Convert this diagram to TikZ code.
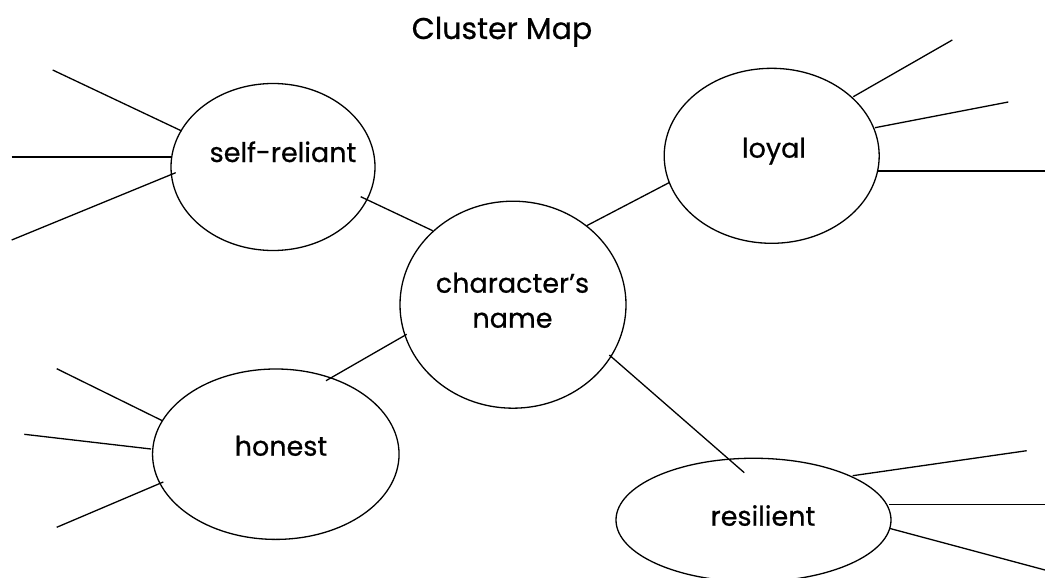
\documentclass[tikz,border=0pt]{standalone}
\usepackage{fontspec}
\setmainfont{Poppins}[FakeBold=0.6,AutoFakeBold=0.6]
\usetikzlibrary{shapes.geometric,calc}
\tikzset{
  oval/.style={ellipse, draw, line width=1.3pt, inner sep=0pt, outer sep=0pt},
  lbl/.style={font=\fontsize{27}{34}\selectfont\bfseries, inner sep=0pt, anchor=base},
  ttl/.style={font=\fontsize{30}{36}\selectfont\bfseries, inner sep=0pt, anchor=base},
  wire/.style={line width=1.3pt}
}
\begin{document}
\begin{tikzpicture}[x=1pt,y=-1pt]
\useasboundingbox (0,0) rectangle (1045,578);
\fill[white] (0,0) rectangle (1045,578);
% title
\node[ttl] (title) at (502,39) {Cluster Map};
% ellipses
\node[oval, minimum width=204pt, minimum height=167pt] (sr) at (273,167) {};
\node[oval, minimum width=215pt, minimum height=175pt] (lo) at (771.7,155.8) {};
\node[oval, minimum width=226pt, minimum height=207pt] (cn) at (513,304.7) {};
\node[oval, minimum width=246.5pt, minimum height=170.4pt] (ho) at (275.8,454.2) {};
\node[oval, minimum width=275pt, minimum height=123.5pt] (re) at (753.5,520) {};
% labels
\node[lbl] (srt) at (283,162) {self-reliant};
\node[lbl] (lot) at (774,157.7) {loyal};
\node[lbl] (cnt1) at (512.5,292.7) {character’s};
\node[lbl] (cnt2) at (512.5,327.7) {name};
\node[lbl] (hot) at (281,455.7) {honest};
\node[lbl] (ret) at (763,525.7) {resilient};
% links
\draw[wire] ($(sr)+(87.7,29.7)$) -- ($(cn)+(-80.3,-74)$);
\draw[wire] ($(cn)+(73.7,-79)$) -- ($(lo)+(-102.7,26.9)$);
\draw[wire] ($(ho)+(50.2,-73.5)$) -- ($(cn)+(-106.3,29.6)$);
\draw[wire] ($(cn)+(96.3,50.3)$) -- ($(re)+(-9.2,-47.3)$);
% free ends
\coordinate (s1) at (52.7,70);
\coordinate (s2) at (11.7,157);
\coordinate (s3) at (11.7,240);
\coordinate (l1) at (952.3,40);
\coordinate (l2) at (1008.3,102);
\coordinate (l3) at (1045,171);
\coordinate (h1) at (56.7,368.7);
\coordinate (h2) at (24.3,434.3);
\coordinate (h3) at (56.7,527.3);
\coordinate (r1) at (1026.7,450.7);
\coordinate (r2) at (1045,504.3);
\coordinate (r3) at (1045,570);
% spokes
\draw[wire] (s1) -- ($(sr)+(-91.3,-36)$);
\draw[wire] (s2) -- ($(sr)+(-101,-10)$);
\draw[wire] (s3) -- ($(sr)+(-97.3,5.7)$);
\draw[wire] ($(lo)+(81.6,-59.1)$) -- (l1);
\draw[wire] ($(lo)+(103.3,-28.1)$) -- (l2);
\draw[wire] ($(lo)+(106,15.2)$) -- (l3);
\draw[wire] (h1) -- ($(ho)+(-113.5,-33.5)$);
\draw[wire] (h2) -- ($(ho)+(-124.8,-5.2)$);
\draw[wire] (h3) -- ($(ho)+(-112.5,27.8)$);
\draw[wire] ($(re)+(99.2,-44.3)$) -- (r1);
\draw[wire] ($(re)+(135.8,-15.7)$) -- (r2);
\draw[wire] ($(re)+(135.8,8.3)$) -- (r3);
\end{tikzpicture}
\end{document}
